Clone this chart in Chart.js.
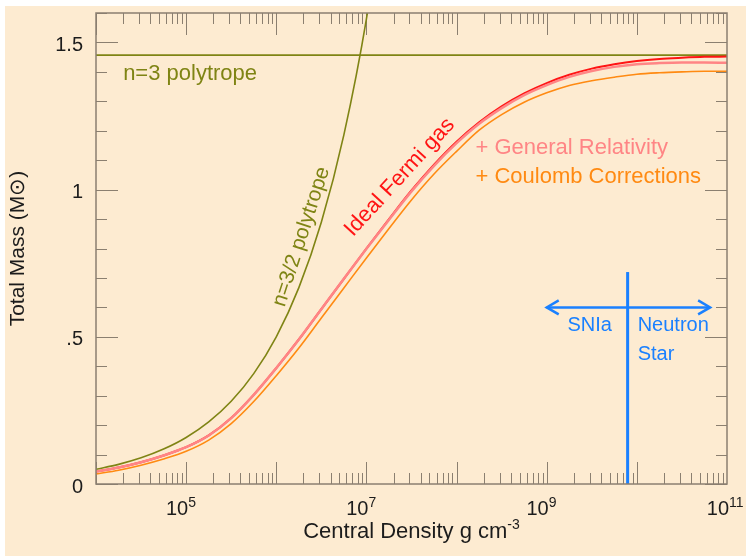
<!DOCTYPE html>
<html>
<head>
<meta charset="utf-8">
<script src="https://cdn.jsdelivr.net/npm/chart.js@4"></script>
<style>
  html, body { margin: 0; padding: 0; background: #ffffff; }
  #paper { position: absolute; left: 5px; top: 6px; right: 0; bottom: 0; width: 741px; height: 550px; background: #fdebd1; }
  #chart { position: absolute; left: 0; top: 0; }
</style>
</head>
<body>
<div id="paper"></div>
<canvas id="chart" width="746" height="556"></canvas>
<script>
// White dwarf mass vs central density

// central density (g cm^-3), quarter-decade steps
const densities = [
    1e4, 1.78e4, 3.16e4, 5.62e4,
    1e5, 1.78e5, 3.16e5, 5.62e5,
    1e6, 1.78e6, 3.16e6, 5.62e6,
    1e7, 1.78e7, 3.16e7, 5.62e7,
    1e8, 1.78e8, 3.16e8, 5.62e8,
    1e9, 1.78e9, 3.16e9, 5.62e9,
    1e10, 1.78e10, 3.16e10, 5.62e10,
    1e11
];

// total mass (M_sun)
const idealFermi = [0.042, 0.056, 0.074, 0.097, 0.125, 0.165, 0.224, 0.303, 0.394, 0.491, 0.594, 0.697,
    0.80, 0.90, 0.997, 1.085, 1.163, 1.229, 1.283, 1.327, 1.362, 1.39, 1.411, 1.426, 1.437, 1.444, 1.448, 1.451, 1.452];
const generalRel = [0.042, 0.056, 0.074, 0.097, 0.125, 0.165, 0.224, 0.303, 0.394, 0.491, 0.594, 0.697,
    0.799, 0.898, 0.994, 1.081, 1.158, 1.224, 1.277, 1.321, 1.355, 1.383, 1.403, 1.417, 1.426, 1.430, 1.432, 1.432, 1.431];
const coulomb = [0.034, 0.047, 0.064, 0.085, 0.111, 0.149, 0.205, 0.280, 0.368, 0.462, 0.564, 0.666,
    0.768, 0.868, 0.965, 1.053, 1.130, 1.202, 1.255, 1.297, 1.329, 1.354, 1.370, 1.382, 1.392, 1.397, 1.400, 1.402, 1.402];
const polyN32 = [0.050, 0.0667, 0.0889, 0.1186, 0.158, 0.211, 0.281, 0.375, 0.500, 0.667, 0.889, 1.186,
    1.58, 2.11];
const polyN3Mass = 1.457;
const polyN3Range = [1e4, 1e11];

// SNIa / neutron star marker
const markerDensity = 7.9e9;
const markerTop = 0.72;
const arrowRange = [1e9, 6.5e10];
const arrowMass = 0.6;

// x tick labels (only odd decades are labelled)
const xLabelValues = [1e5, 1e7, 1e9, 1e11];
const xLabelExps = ['5', '7', '9', '11'];

const OLIVE = '#7f8414';
const RED = '#ff1414';
const PINK = '#ff8585';
const ORANGE = '#ff8a12';
const BLUE = '#1a80ff';
const FRAME = '#8b7f70';
const TEXT = '#1c1c1c';
const FONT = '"Liberation Sans", Arial, Helvetica, sans-serif';

const pts = (arr) => arr.map((v, i) => ({ x: densities[i], y: v }));

function text(ctx, str, x, y, opts) {
    ctx.save();
    ctx.font = `${opts.size || 22}px ${FONT}`;
    ctx.fillStyle = opts.color || TEXT;
    ctx.textAlign = opts.align || 'left';
    ctx.textBaseline = opts.baseline || 'alphabetic';
    ctx.translate(x, y);
    if (opts.angle) ctx.rotate(opts.angle * Math.PI / 180);
    ctx.fillText(str, 0, 0);
    ctx.restore();
}

const decor = {
    id: 'decor',
    beforeDatasetsDraw(chart) {
        const { ctx, chartArea: a, scales: { x, y } } = chart;
        ctx.save();
        ctx.strokeStyle = FRAME;
        ctx.lineWidth = 1;
        ctx.beginPath();
        // inward ticks, top and bottom
        for (let d = 4; d <= 10; d++) {
            for (let k = 1; k <= 9; k++) {
                const px = Math.round(x.getPixelForValue(k * Math.pow(10, d))) + 0.5;
                const len = k === 1 ? 22 : 11;
                ctx.moveTo(px, a.bottom); ctx.lineTo(px, a.bottom - len);
                ctx.moveTo(px, a.top); ctx.lineTo(px, a.top + len);
            }
        }
        // inward ticks, left and right
        for (let i = 0; i <= 16; i++) {
            const py = Math.round(y.getPixelForValue(i / 10)) + 0.5;
            const len = i % 5 === 0 ? 22 : 11;
            ctx.moveTo(a.left, py); ctx.lineTo(a.left + len, py);
            ctx.moveTo(a.right, py); ctx.lineTo(a.right - len, py);
        }
        ctx.stroke();
        ctx.restore();
    },
    afterDatasetsDraw(chart) {
        const { ctx, chartArea: a, scales: { x, y } } = chart;
        ctx.save();
        ctx.strokeStyle = FRAME;
        ctx.lineWidth = 1.5;
        ctx.strokeRect(a.left, a.top, a.right - a.left, a.bottom - a.top);

        // arrow heads on the SNIa / neutron star arrow
        const arrow = chart.getDatasetMeta(6).data;
        const p0 = arrow[0], p1 = arrow[arrow.length - 1];
        ctx.strokeStyle = BLUE;
        ctx.lineWidth = 2.5;
        ctx.beginPath();
        ctx.moveTo(p0.x + 12, p0.y - 7); ctx.lineTo(p0.x, p0.y); ctx.lineTo(p0.x + 12, p0.y + 7);
        ctx.moveTo(p1.x - 12, p1.y - 7); ctx.lineTo(p1.x, p1.y); ctx.lineTo(p1.x - 12, p1.y + 7);
        ctx.stroke();
        ctx.restore();

        // x tick labels with exponents
        xLabelValues.forEach((v, i) => {
            const px = x.getPixelForValue(v);
            text(ctx, '10', px + 2, a.bottom + 31, { size: 20, align: 'right' });
            text(ctx, xLabelExps[i], px + 2, a.bottom + 23, { size: 14 });
        });

        // x axis title
        ctx.save();
        ctx.font = `22px ${FONT}`;
        const main = 'Central Density g cm';
        const w1 = ctx.measureText(main).width;
        ctx.font = `14px ${FONT}`;
        const w2 = ctx.measureText('-3').width;
        ctx.restore();
        const cx = (a.left + a.right) / 2;
        const start = cx - (w1 + w2) / 2;
        text(ctx, main, start, a.bottom + 54, { size: 22 });
        text(ctx, '-3', start + w1, a.bottom + 45, { size: 14 });

        // curve labels
        text(ctx, 'n=3 polytrope', x.getPixelForValue(2.0e4), y.getPixelForValue(1.372), { color: OLIVE, size: 22 });
        text(ctx, 'n=3/2 polytrope', x.getPixelForValue(1.9e6), y.getPixelForValue(0.84),
            { color: OLIVE, size: 21, align: 'center', baseline: 'middle', angle: -72 });
        text(ctx, 'Ideal Fermi gas', x.getPixelForValue(2.34e7), y.getPixelForValue(1.042),
            { color: RED, size: 22, align: 'center', baseline: 'middle', angle: -47.5 });
        text(ctx, '+ General Relativity', x.getPixelForValue(1.62e8), y.getPixelForValue(1.121), { color: PINK, size: 22 });
        text(ctx, '+ Coulomb Corrections', x.getPixelForValue(1.62e8), y.getPixelForValue(1.023), { color: ORANGE, size: 22 });

        // regime labels
        text(ctx, 'SNIa', x.getPixelForValue(3.0e9), y.getPixelForValue(0.52), { color: BLUE, size: 20, align: 'center' });
        text(ctx, 'Neutron', x.getPixelForValue(1.02e10), y.getPixelForValue(0.52), { color: BLUE, size: 20 });
        text(ctx, 'Star', x.getPixelForValue(1.02e10), y.getPixelForValue(0.421), { color: BLUE, size: 20 });
    }
};

const line = (data, color, width) => ({
    data,
    borderColor: color,
    borderWidth: width,
    pointRadius: 0,
    fill: false,
    cubicInterpolationMode: 'monotone'
});

const noPad = (s) => {
    s.paddingTop = 0; s.paddingBottom = 0; s.paddingLeft = 0; s.paddingRight = 0;
};

new Chart(document.getElementById('chart'), {
    type: 'line',
    data: {
        datasets: [
            line(pts(generalRel), PINK, 2.5),
            line(pts(idealFermi), RED, 2),
            line(pts(coulomb), ORANGE, 1.6),
            line(pts(polyN32), OLIVE, 1.6),
            line(polyN3Range.map(d => ({ x: d, y: polyN3Mass })), OLIVE, 1.6),
            line([{ x: markerDensity, y: 0 }, { x: markerDensity, y: markerTop }], BLUE, 3),
            line(arrowRange.map(d => ({ x: d, y: arrowMass })), BLUE, 2.5)
        ]
    },
    options: {
        responsive: false,
        animation: false,
        layout: { padding: { top: 13, right: 19, left: 0, bottom: 0 } },
        plugins: {
            legend: { display: false },
            tooltip: { enabled: false }
        },
        scales: {
            x: {
                type: 'logarithmic',
                min: 1e4,
                max: 1e11,
                grid: { display: false, drawTicks: false },
                border: { display: false },
                ticks: { display: false },
                afterFit: (s) => { s.height = 72; noPad(s); }
            },
            y: {
                type: 'linear',
                min: 0,
                max: 1.6,
                grid: { display: false, drawTicks: false },
                border: { display: false },
                ticks: {
                    stepSize: 0.5,
                    includeBounds: false,
                    padding: 13,
                    labelOffset: 3,
                    color: TEXT,
                    font: { family: FONT, size: 20 },
                    callback: (v) => String(v).replace(/^0\./, '.')
                },
                title: {
                    display: true,
                    text: 'Total Mass (M\u2299)',
                    color: TEXT,
                    font: { family: FONT, size: 21 },
                    padding: { top: 6, bottom: 0 }
                },
                afterFit: (s) => { s.width = 96; noPad(s); }
            }
        }
    },
    plugins: [decor]
});
</script>
</body>
</html>
